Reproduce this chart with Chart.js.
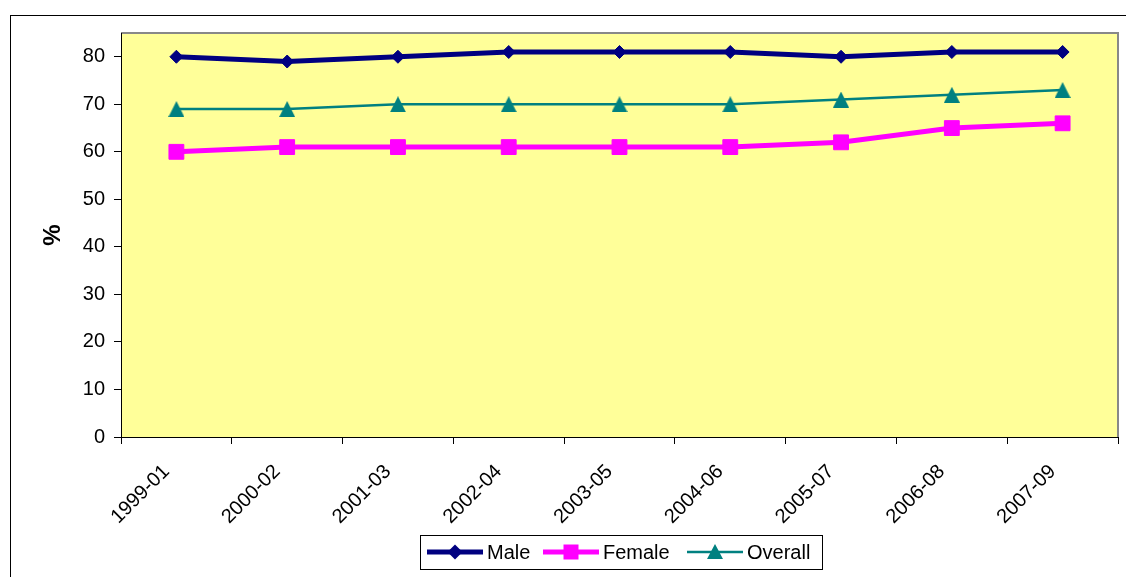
<!DOCTYPE html>
<html>
<head>
<meta charset="utf-8">
<script src="https://cdn.jsdelivr.net/npm/chart.js@4.4.1/dist/chart.umd.min.js"></script>
<style>
  body { margin: 0; background: #fff; }
  canvas { display: block; }
</style>
</head>
<body>
<canvas id="rateChart" width="1126" height="577"></canvas>
<script>
// data
const periods = ["1999-01", "2000-02", "2001-03", "2002-04", "2003-05",
  "2004-06", "2005-07", "2006-08", "2007-09"];
const male = [80, 79, 80, 81, 81, 81, 80, 81, 81];
const female = [60, 61, 61, 61, 61, 61, 62, 65, 66];
const overall = [69, 69, 70, 70, 70, 70, 71, 72, 73];
const yTicks = [0, 10, 20, 30, 40, 50, 60, 70, 80];

const FONT = '"Liberation Sans", Arial, sans-serif';

// excel style triangle marker, centred on its box
function triangleMarker(w, h, color) {
  const c = document.createElement('canvas');
  c.width = w; c.height = h;
  const g = c.getContext('2d');
  g.fillStyle = color;
  g.beginPath();
  g.moveTo(w / 2, 0);
  g.lineTo(w, h);
  g.lineTo(0, h);
  g.closePath();
  g.fill();
  return c;
}
const tri = triangleMarker(16, 16, '#008080');

// plot background, outer frame and the boxed legend
const frame = {
  id: 'frame',
  beforeDraw(chart) {
    const ctx = chart.ctx, a = chart.chartArea;
    ctx.save();
    ctx.strokeStyle = '#000';
    ctx.lineWidth = 1;
    ctx.strokeRect(10.5, 15.5, 1200, 700);
    ctx.fillStyle = '#FFFF99';
    ctx.fillRect(a.left, a.top, a.right - a.left, a.bottom - a.top);
    ctx.strokeStyle = '#888';
    ctx.lineWidth = 2;
    ctx.beginPath();
    ctx.moveTo(a.left, a.top);
    ctx.lineTo(a.right, a.top);
    ctx.lineTo(a.right, a.bottom);
    ctx.stroke();
    ctx.restore();
  },
  afterDraw(chart) {
    const ctx = chart.ctx;
    ctx.save();
    ctx.strokeStyle = '#000';
    ctx.lineWidth = 1;
    ctx.strokeRect(420.5, 535.5, 402, 34);
    ctx.font = '20px ' + FONT;
    ctx.textBaseline = 'middle';
    const starts = [427, 543, 687];
    const y = 552;
    chart.data.datasets.forEach((ds, i) => {
      const x0 = starts[i], x1 = x0 + 56, xm = (x0 + x1) / 2;
      ctx.strokeStyle = ds.borderColor;
      ctx.lineWidth = ds.borderWidth;
      ctx.beginPath();
      ctx.moveTo(x0, y);
      ctx.lineTo(x1, y);
      ctx.stroke();
      ctx.fillStyle = ds.borderColor;
      ctx.beginPath();
      if (i === 0) {
        ctx.moveTo(xm, y - 7.5); ctx.lineTo(xm + 7.5, y); ctx.lineTo(xm, y + 7.5); ctx.lineTo(xm - 7.5, y);
      } else if (i === 1) {
        ctx.rect(xm - 7.5, y - 7.5, 15, 15);
      } else {
        ctx.moveTo(xm, y - 8); ctx.lineTo(xm + 8, y + 7); ctx.lineTo(xm - 8, y + 7);
      }
      ctx.closePath();
      ctx.fill();
      ctx.fillStyle = '#000';
      ctx.fillText(ds.label, x1 + 4, y + 1);
    });
    ctx.restore();
  }
};

const myChart = new Chart(document.getElementById('rateChart'), {
  type: 'line',
  data: {
    labels: periods,
    datasets: [{
      label: 'Male',
      data: male,
      borderColor: '#000080',
      backgroundColor: '#000080',
      pointBackgroundColor: '#000080',
      pointBorderColor: '#000080',
      borderWidth: 5,
      pointStyle: 'rectRot',
      pointRadius: 6.5,
      pointBorderWidth: 1
    }, {
      label: 'Female',
      data: female,
      borderColor: '#FF00FF',
      backgroundColor: '#FF00FF',
      pointBackgroundColor: '#FF00FF',
      pointBorderColor: '#FF00FF',
      borderWidth: 5,
      pointStyle: 'rect',
      pointRadius: 10.5,
      pointBorderWidth: 1
    }, {
      label: 'Overall',
      data: overall,
      borderColor: '#008080',
      backgroundColor: '#008080',
      borderWidth: 2.5,
      pointStyle: tri,
      pointRadius: 8
    }]
  },
  options: {
    responsive: false,
    animation: false,
    layout: { autoPadding: false, padding: { top: 33, right: 8, left: 0, bottom: 0 } },
    plugins: {
      legend: { display: false },
      tooltip: { enabled: false }
    },
    scales: {
      x: {
        offset: true,
        grid: { offset: true, drawOnChartArea: false, drawTicks: true, tickLength: 7, color: '#000' },
        border: { color: '#000', width: 1 },
        ticks: {
          color: '#000',
          font: { family: FONT, size: 20 },
          minRotation: 45,
          maxRotation: 45,
          padding: 16,
          labelOffset: -10
        },
        afterFit(scale) {
          scale.height = 140;
          scale.paddingLeft = 0;
          scale.paddingRight = 0;
        }
      },
      y: {
        min: 0,
        max: 85,
        afterBuildTicks(scale) { scale.ticks = yTicks.map(v => ({ value: v })); },
        grid: { drawOnChartArea: false, drawTicks: true, tickLength: 7, color: '#000' },
        border: { color: '#000', width: 1 },
        ticks: {
          color: '#000',
          padding: 9,
          font: { family: FONT, size: 20 }
        },
        title: {
          display: true,
          text: '%',
          color: '#000',
          padding: { top: 39, bottom: 0 },
          font: { family: FONT, size: 24, weight: 'bold' }
        },
        afterFit(scale) { scale.width = 121; }
      }
    }
  },
  plugins: [frame]
});
</script>
</body>
</html>
